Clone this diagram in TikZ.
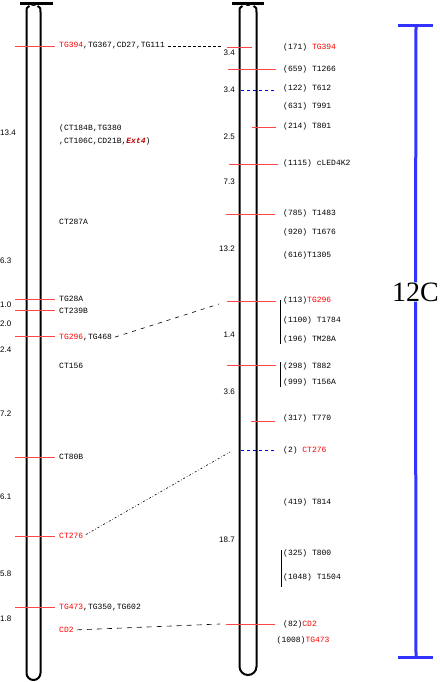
\documentclass[tikz,border=0pt]{standalone}
\usepackage{fontspec}
\setmainfont{Liberation Serif}
\newfontfamily\markfont{Liberation Mono}
\newfontfamily\distfont{Liberation Sans}
\definecolor{markred}{RGB}{255, 70, 70}
\definecolor{scaleblue}{RGB}{51, 51, 255}
\definecolor{extred}{RGB}{190, 0, 0}

\begin{document}
\begin{tikzpicture}[
    x = 1pt, y = -1pt,
    chromo/.style = {line width=2pt, black},
    locus/.style  = {draw=markred, line width=0.8pt},
    altlocus/.style = {draw=blue, dashed, line width=0.8pt},
    link/.style   = {dashed, line width=0.6pt, shorten <=3pt},
    marker/.style = {anchor=west, inner sep=0pt,
                     font=\markfont\fontsize{8}{13}\selectfont},
    dist/.style   = {inner sep=0pt, font=\distfont\fontsize{8}{9}\selectfont},
    scalebar/.style = {draw=scaleblue, line width=3pt}
  ]
  \useasboundingbox (0,0) rectangle (439,682);

  % left chromosome
  \draw[chromo] (26.5,12) -- (26.5,673) arc[start angle=180, end angle=0, radius=7] -- (40.5,12);
  \draw[chromo] (26.5,12) .. controls (26.5,8) .. (29.5,6);
  \draw[chromo] (40.5,12) .. controls (40.5,8) .. (37.5,6);
  \draw[line width=3pt] (20,4) -- (53,4);
  \fill (33.5,4) ellipse (3 and 2);

  % right chromosome
  \draw[chromo] (239.5,12) -- (239.5,666.5) arc[start angle=180, end angle=0, radius=8.5] -- (256.5,12);
  \draw[chromo] (239.5,12) .. controls (239.5,8) .. (242.5,6);
  \draw[chromo] (256.5,12) .. controls (256.5,8) .. (253.5,6);
  \draw[line width=3pt] (232,4) -- (264,4);
  \fill (248,4) ellipse (3 and 2);

  % left marker lines
  \foreach \yy in {46, 299, 310, 336, 457, 536, 607}
    \draw[locus] (15,\yy) -- (55,\yy);

  % left markers
  \node[marker] (l394)  at (59,46)  {\textcolor{red}{TG394},TG367,CD27,TG111};
  \node[marker, align=left] (l184B) at (59,134.5)
    {(CT184B,TG380\\,CT106C,CD21B,\textcolor{extred}{\textbf{\textit{Ext4}}})};
  \node[marker] (l287A) at (59,222) {CT287A};
  \node[marker] (l28A)  at (59,299) {TG28A};
  \node[marker] (l239B) at (59,311) {CT239B};
  \node[marker] (l296)  at (59,338) {\textcolor{red}{TG296},TG468};
  \node[marker] (l156)  at (59,366) {CT156};
  \node[marker] (l80B)  at (59,457) {CT80B};
  \node[marker] (l276)  at (59,536) {\textcolor{red}{CT276}};
  \node[marker] (l473)  at (59,608) {\textcolor{red}{TG473},TG350,TG602};
  \node[marker] (lCD2)  at (59,630) {\textcolor{red}{CD2}};

  % left distances
  \node[dist, anchor=west] (ld1) at (0,133) {13.4};
  \node[dist, anchor=west] (ld2) at (0,261) {6.3};
  \node[dist, anchor=west] (ld3) at (0,305) {1.0};
  \node[dist, anchor=west] (ld4) at (0,324) {2.0};
  \node[dist, anchor=west] (ld5) at (0,350) {2.4};
  \node[dist, anchor=west] (ld6) at (0,414) {7.2};
  \node[dist, anchor=west] (ld7) at (0,497) {6.1};
  \node[dist, anchor=west] (ld8) at (0,574) {5.8};
  \node[dist, anchor=west] (ld9) at (0,619) {1.8};

  % right marker lines
  \draw[locus] (227,47) -- (252,47);
  \draw[locus] (228,69.5) -- (276,69.5);
  \draw[altlocus] (241,90.5) -- (275,90.5);
  \draw[locus] (252,127) -- (276,127);
  \draw[locus] (229,164) -- (278,164);
  \draw[locus] (226,214) -- (275,214);
  \draw[locus] (227,301) -- (276,301);
  \draw[locus] (227,365.5) -- (276,365.5);
  \draw[locus] (251,421.5) -- (275,421.5);
  \draw[altlocus] (241,450) -- (274,450);
  \draw[locus] (226,624) -- (275,624);

  % brackets
  \draw[line width=0.7pt] (280.5,300) -- (280.5,344);
  \draw[line width=0.7pt] (280.5,362) -- (280.5,387);
  \draw[line width=0.7pt] (281.5,550) -- (281.5,587);

  % right markers
  \node[marker] (r394)  at (283,47)  {(171) \textcolor{red}{TG394}};
  \node[marker] (r1266) at (283,69)  {(659) T1266};
  \node[marker] (r612)  at (283,88)  {(122) T612};
  \node[marker] (r991)  at (283,106) {(631) T991};
  \node[marker] (r801)  at (283,126) {(214) T801};
  \node[marker] (r4K2)  at (283,163) {(1115) cLED4K2};
  \node[marker] (r1483) at (283,213) {(785) T1483};
  \node[marker] (r1676) at (283,232) {(920) T1676};
  \node[marker] (r1305) at (283,255) {(616)T1305};
  \node[marker] (r296)  at (283,300) {(113)\textcolor{red}{TG296}};
  \node[marker] (r1784) at (283,320) {(1100) T1784};
  \node[marker] (r28A)  at (283,339) {(196) TM28A};
  \node[marker] (r882)  at (283,366) {(298) T882};
  \node[marker] (r156A) at (283,382) {(999) T156A};
  \node[marker] (r770)  at (283,418) {(317) T770};
  \node[marker] (r276)  at (283,450) {(2) \textcolor{red}{CT276}};
  \node[marker] (r814)  at (283,502) {(419) T814};
  \node[marker] (r800)  at (283,553) {(325) T800};
  \node[marker] (r1504) at (283,577) {(1048) T1504};
  \node[marker] (rCD2)  at (283,624) {(82)\textcolor{red}{CD2}};
  \node[marker] (r473)  at (276.5,640) {(1008)\textcolor{red}{TG473}};

  % right distances
  \node[dist, anchor=east] (rd1) at (235,53)  {3.4};
  \node[dist, anchor=east] (rd2) at (235,90)  {3.4};
  \node[dist, anchor=east] (rd3) at (235,137) {2.5};
  \node[dist, anchor=east] (rd4) at (235,182) {7.3};
  \node[dist, anchor=east] (rd5) at (235,249) {13.2};
  \node[dist, anchor=east] (rd6) at (235,335) {1.4};
  \node[dist, anchor=east] (rd7) at (235,392) {3.6};
  \node[dist, anchor=east] (rd8) at (235,540) {18.7};

  % links between maps
  \coordinate (c394) at (221,46);
  \coordinate (c296) at (219,304);
  \coordinate (c276) at (230,452);
  \coordinate (cCD2) at (220,624);
  \draw[link, dash pattern=on 3pt off 2pt] (l394.east) -- (c394);
  \draw[link, dash pattern=on 4pt off 5pt] (l296.east) -- (c296);
  \draw[link, dash pattern=on 2pt off 2pt on 0.6pt off 2pt] (l276.east) -- (c276);
  \draw[link, dash pattern=on 5pt off 5pt] (lCD2.east) -- (cCD2);

  % scale bar
  \node[inner sep=0pt, font=\fontsize{28}{30}\selectfont] (scale) at (415.5,292) {12C};
  \draw[scalebar] (398,26) -- (433,26);
  \draw[scalebar] (398,657) -- (433,657);
  \draw[scalebar] (416,26) -- (scale.north);
  \draw[scalebar] (scale.south) -- (416,657);
\end{tikzpicture}
\end{document}
